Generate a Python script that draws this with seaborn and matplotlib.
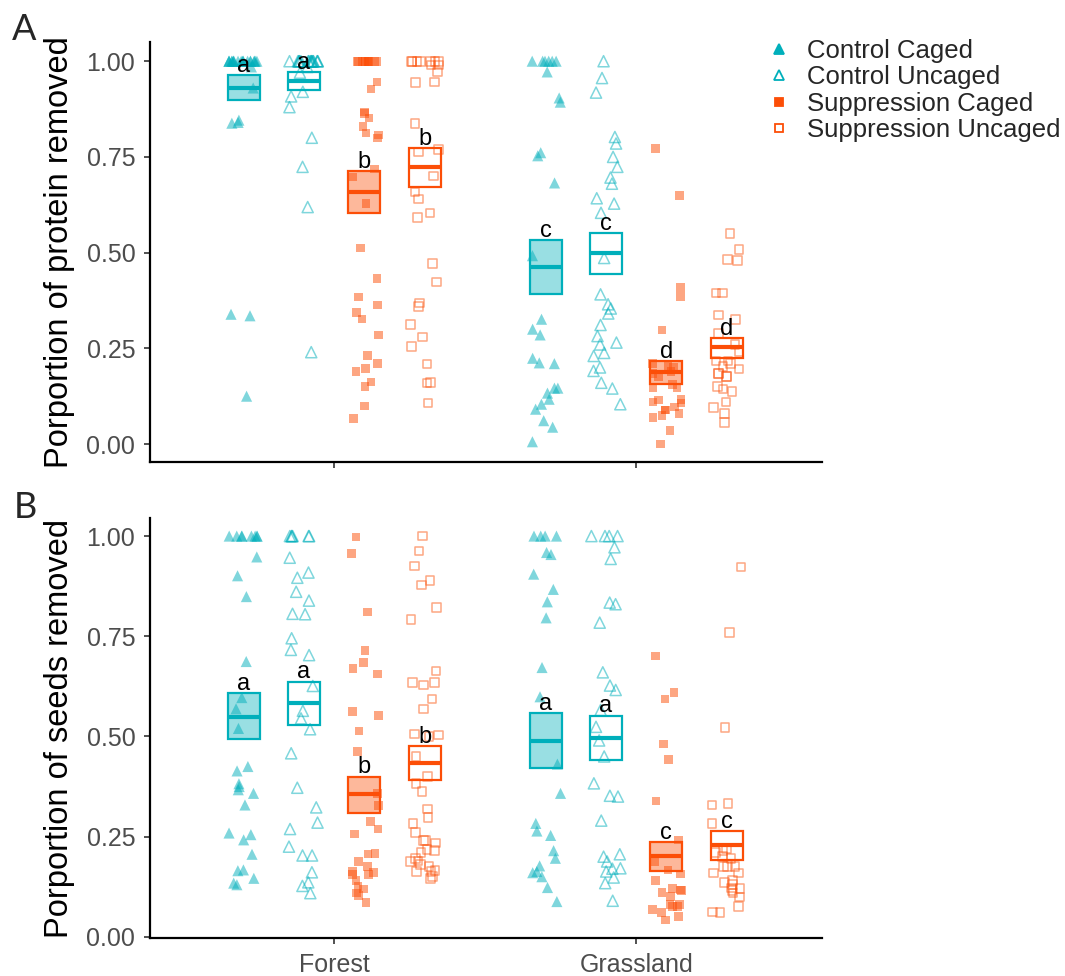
import numpy as np
import pandas as pd
import seaborn as sns
import matplotlib.pyplot as plt
from matplotlib.colors import to_rgb
from matplotlib.lines import Line2D
from matplotlib.ticker import FormatStrFormatter

# ---------------------------------------------------------------- data
HABITATS = ["Forest", "Grassland"]
GROUPS = ["Control Caged", "Control Uncaged", "Suppression Caged", "Suppression Uncaged"]

# Proportion of protein removed, one list per habitat x treatment
protein_forest_cc = [1.00, 1.00, 1.00, 1.00, 1.00, 1.00, 1.00, 1.00, 1.00, 1.00,
                     1.00, 1.00, 1.00, 1.00, 1.00, 1.00, 1.00, 1.00, 1.00, 1.00,
                     0.985, 0.93, 0.846, 0.84, 0.838, 0.339, 0.335, 0.125]
protein_forest_cu = [1.00, 1.00, 1.00, 1.00, 1.00, 1.00, 1.00, 1.00, 1.00, 1.00,
                     1.00, 1.00, 1.00, 1.00, 1.00, 1.00, 1.00, 1.00,
                     0.985, 0.97, 0.92, 0.908, 0.88, 0.80, 0.724, 0.619, 0.24]
protein_forest_sc = [1.00, 1.00, 1.00, 1.00, 1.00, 1.00, 1.00, 1.00, 1.00, 1.00,
                     0.946, 0.927, 0.867, 0.864, 0.852, 0.829, 0.812, 0.807, 0.799,
                     0.718, 0.698, 0.629, 0.512, 0.433, 0.384, 0.363, 0.343, 0.327,
                     0.285, 0.232, 0.211, 0.198, 0.189, 0.162, 0.15, 0.099, 0.066]
protein_forest_su = [1.00, 1.00, 1.00, 1.00, 1.00, 1.00, 1.00,
                     0.99, 0.99, 0.972, 0.946, 0.944, 0.837, 0.77, 0.763, 0.70,
                     0.658, 0.64, 0.603, 0.591, 0.472, 0.423, 0.368, 0.36, 0.313,
                     0.28, 0.254, 0.209, 0.16, 0.159, 0.107]
protein_grass_cc = [1.00, 1.00, 1.00, 1.00, 1.00, 1.00,
                    0.972, 0.904, 0.893, 0.761, 0.753, 0.682, 0.492, 0.326, 0.30,
                    0.285, 0.224, 0.212, 0.21, 0.146, 0.146, 0.133, 0.117, 0.104,
                    0.091, 0.061, 0.044, 0.006]
protein_grass_cu = [1.00, 0.956, 0.918, 0.802, 0.785, 0.75, 0.724, 0.696, 0.68,
                    0.642, 0.628, 0.604, 0.486, 0.391, 0.365, 0.354, 0.341, 0.311,
                    0.282, 0.265, 0.26, 0.238, 0.23, 0.20, 0.191, 0.16, 0.145, 0.104]
protein_grass_sc = [0.772, 0.65, 0.409, 0.385, 0.298, 0.21, 0.205, 0.20, 0.19,
                    0.185, 0.175, 0.155, 0.147, 0.147, 0.117, 0.115, 0.11, 0.107,
                    0.097, 0.089, 0.089, 0.08, 0.074, 0.07, 0.035, 0.0]
protein_grass_su = [0.55, 0.508, 0.482, 0.48, 0.395, 0.395, 0.337, 0.326, 0.289,
                    0.26, 0.24, 0.217, 0.217, 0.21, 0.202, 0.196, 0.185, 0.185,
                    0.176, 0.176, 0.15, 0.144, 0.138, 0.11, 0.095, 0.08, 0.056]

# Proportion of seeds removed
seeds_forest_cc = [1.00, 1.00, 1.00, 1.00, 1.00, 1.00, 1.00, 1.00,
                   0.948, 0.901, 0.849, 0.687, 0.597, 0.569, 0.52, 0.425, 0.414,
                   0.382, 0.375, 0.367, 0.358, 0.329, 0.259, 0.255, 0.242, 0.206,
                   0.167, 0.165, 0.146, 0.134, 0.13]
seeds_forest_cu = [1.00, 1.00, 1.00, 1.00, 1.00, 1.00,
                   0.946, 0.909, 0.896, 0.861, 0.839, 0.806, 0.805, 0.745, 0.716,
                   0.703, 0.626, 0.564, 0.545, 0.518, 0.458, 0.372, 0.323, 0.285,
                   0.269, 0.225, 0.203, 0.203, 0.161, 0.136, 0.127, 0.109]
seeds_forest_sc = [0.998, 0.957, 0.811, 0.714, 0.684, 0.67, 0.656, 0.562, 0.552,
                   0.514, 0.462, 0.358, 0.327, 0.288, 0.269, 0.257, 0.208, 0.207,
                   0.188, 0.175, 0.163, 0.16, 0.156, 0.155, 0.14, 0.125, 0.119,
                   0.109, 0.103, 0.086]
seeds_forest_su = [1.00, 0.963, 0.925, 0.889, 0.878, 0.822, 0.792, 0.663, 0.635,
                   0.635, 0.628, 0.593, 0.569, 0.506, 0.504, 0.50, 0.45, 0.40,
                   0.382, 0.362, 0.319, 0.298, 0.283, 0.26, 0.24, 0.24, 0.234,
                   0.218, 0.215, 0.211, 0.196, 0.189, 0.188, 0.18, 0.175, 0.165,
                   0.163, 0.163, 0.15, 0.146]
seeds_grass_cc = [1.00, 1.00, 1.00, 1.00,
                  0.959, 0.954, 0.905, 0.867, 0.836, 0.796, 0.672, 0.599, 0.431,
                  0.358, 0.283, 0.264, 0.253, 0.215, 0.196, 0.177, 0.163, 0.16,
                  0.15, 0.123, 0.088]
seeds_grass_cu = [1.00, 1.00, 1.00, 1.00,
                  0.972, 0.943, 0.834, 0.83, 0.784, 0.66, 0.627, 0.616, 0.566,
                  0.524, 0.49, 0.45, 0.383, 0.352, 0.35, 0.29, 0.206, 0.20, 0.188,
                  0.171, 0.17, 0.163, 0.148, 0.134, 0.09]
seeds_grass_sc = [0.701, 0.609, 0.593, 0.481, 0.443, 0.339, 0.242, 0.188, 0.167,
                  0.157, 0.14, 0.12, 0.117, 0.115, 0.11, 0.10, 0.08, 0.08, 0.076,
                  0.076, 0.068, 0.061, 0.051, 0.042]
seeds_grass_su = [0.923, 0.76, 0.522, 0.332, 0.329, 0.283, 0.22, 0.215, 0.21, 0.20,
                  0.195, 0.175, 0.175, 0.175, 0.159, 0.159, 0.14, 0.135, 0.13,
                  0.121, 0.122, 0.115, 0.109, 0.099, 0.076, 0.061, 0.062]

# Estimated means and standard-error limits, order: Forest x GROUPS, Grassland x GROUPS
protein_mean = [0.931, 0.949, 0.659, 0.723, 0.463, 0.500, 0.189, 0.254]
protein_lo = [0.898, 0.924, 0.604, 0.672, 0.392, 0.444, 0.158, 0.225]
protein_hi = [0.963, 0.972, 0.714, 0.773, 0.534, 0.552, 0.218, 0.278]
protein_letters = ["a", "a", "b", "b", "c", "c", "d", "d"]

seeds_mean = [0.549, 0.584, 0.356, 0.433, 0.489, 0.495, 0.202, 0.229]
seeds_lo = [0.493, 0.529, 0.310, 0.392, 0.421, 0.441, 0.165, 0.192]
seeds_hi = [0.608, 0.637, 0.400, 0.475, 0.558, 0.552, 0.236, 0.264]
seeds_letters = ["a", "a", "b", "b", "a", "a", "c", "c"]

# ---------------------------------------------------------------- styling
TEAL = "#00AFBB"
ORANGE = "#FC4E07"
STYLE = {
    "Control Caged": dict(color=TEAL, marker="^", size=8.0, open=False),
    "Control Uncaged": dict(color=TEAL, marker="^", size=8.0, open=True),
    "Suppression Caged": dict(color=ORANGE, marker="s", size=6.2, open=False),
    "Suppression Uncaged": dict(color=ORANGE, marker="s", size=6.2, open=True),
}
DODGE_WIDTH = 0.8
BOX_GAP = 0.47

sns.set_theme(style="ticks")
plt.rcParams["font.family"] = ["Liberation Sans", "DejaVu Sans"]
np.random.seed(11)


def points_frame(series):
    rows = []
    for (hab, grp), vals in series.items():
        rows += [(hab, grp, v) for v in vals]
    return pd.DataFrame(rows, columns=["habitat", "group", "value"])


def box_frame(mean, lo, hi):
    # five values per group whose quartiles / median are lo, mean, hi
    rows = []
    k = 0
    for hab in HABITATS:
        for grp in GROUPS:
            for v in (lo[k], lo[k], mean[k], hi[k], hi[k]):
                rows.append((hab, grp, v))
            k += 1
    return pd.DataFrame(rows, columns=["habitat", "group", "value"])


def draw_panel(ax, pts, boxes, hi, letters, ylabel, ylim):
    for grp in GROUPS:
        st = STYLE[grp]
        pal = {g: st["color"] for g in GROUPS}
        sub = pts[pts["group"] == grp]
        n0 = len(ax.collections)
        sns.stripplot(data=sub, x="habitat", y="value", hue="group",
                      order=HABITATS, hue_order=GROUPS, dodge=True, jitter=0.2,
                      marker=st["marker"], size=st["size"], palette=pal,
                      linewidth=1.0 if st["open"] else 0,
                      edgecolor=st["color"], alpha=0.5, legend=False, ax=ax)
        for coll in ax.collections[n0:]:
            coll.set_zorder(2)
            if st["open"]:
                coll.set_facecolor("none")
                coll.set_edgecolor(st["color"])
                coll.set_linewidth(1.1)

        bsub = boxes[boxes["group"] == grp]
        p0, l0 = len(ax.patches), len(ax.lines)
        sns.boxplot(data=bsub, x="habitat", y="value", hue="group",
                    order=HABITATS, hue_order=GROUPS, dodge=True,
                    width=DODGE_WIDTH, gap=BOX_GAP, whis=0, showcaps=False,
                    showfliers=False, palette=pal, linecolor=st["color"],
                    linewidth=1.6, medianprops=dict(color=st["color"], linewidth=3.0),
                    legend=False, ax=ax)
        for p in ax.patches[p0:]:
            p.set_facecolor("none" if st["open"] else (*to_rgb(st["color"]), 0.4))
            p.set_edgecolor(st["color"])
            p.set_zorder(3)
        for ln in ax.lines[l0:]:
            ln.set_zorder(3.5)

    n = len(GROUPS)
    k = 0
    for h_idx, hab in enumerate(HABITATS):
        for gi, grp in enumerate(GROUPS):
            off = (gi - (n - 1) / 2) * DODGE_WIDTH / n
            ax.text(h_idx + off, hi[k] + 0.008, letters[k], ha="center",
                    va="baseline", fontsize=17, color="black", zorder=5)
            k += 1

    ax.set_xlim(-0.61, 1.615)
    ax.set_ylim(*ylim)
    ax.set_yticks([0.0, 0.25, 0.5, 0.75, 1.0])
    ax.yaxis.set_major_formatter(FormatStrFormatter("%.2f"))
    ax.set_xlabel("")
    ax.set_ylabel(ylabel, fontsize=23.5, color="black")
    ax.yaxis.set_label_coords(-0.112, 0.5)
    sns.despine(ax=ax)
    for s in ("left", "bottom"):
        ax.spines[s].set_linewidth(1.6)
        ax.spines[s].set_color("black")
    ax.tick_params(axis="both", length=4.5, width=1.2, color="#333333",
                   labelsize=18, labelcolor="#4D4D4D", pad=6)


protein_pts = points_frame({
    ("Forest", "Control Caged"): protein_forest_cc,
    ("Forest", "Control Uncaged"): protein_forest_cu,
    ("Forest", "Suppression Caged"): protein_forest_sc,
    ("Forest", "Suppression Uncaged"): protein_forest_su,
    ("Grassland", "Control Caged"): protein_grass_cc,
    ("Grassland", "Control Uncaged"): protein_grass_cu,
    ("Grassland", "Suppression Caged"): protein_grass_sc,
    ("Grassland", "Suppression Uncaged"): protein_grass_su,
})
seeds_pts = points_frame({
    ("Forest", "Control Caged"): seeds_forest_cc,
    ("Forest", "Control Uncaged"): seeds_forest_cu,
    ("Forest", "Suppression Caged"): seeds_forest_sc,
    ("Forest", "Suppression Uncaged"): seeds_forest_su,
    ("Grassland", "Control Caged"): seeds_grass_cc,
    ("Grassland", "Control Uncaged"): seeds_grass_cu,
    ("Grassland", "Suppression Caged"): seeds_grass_sc,
    ("Grassland", "Suppression Uncaged"): seeds_grass_su,
})

fig = plt.figure(figsize=(10.65, 9.76), dpi=100)
ax_a = fig.add_axes([0.1408, 0.5266, 0.6310, 0.4303])
ax_b = fig.add_axes([0.1408, 0.0389, 0.6310, 0.4303])

draw_panel(ax_a, protein_pts, box_frame(protein_mean, protein_lo, protein_hi),
           protein_hi, protein_letters, "Porportion of protein removed", (-0.047, 1.05))
draw_panel(ax_b, seeds_pts, box_frame(seeds_mean, seeds_lo, seeds_hi),
           seeds_hi, seeds_letters, "Porportion of seeds removed", (-0.003, 1.045))
ax_a.set_xticklabels([])

fig.text(0.011, 0.959, "A", fontsize=26, family=["Lato", "DejaVu Sans"])
fig.text(0.013, 0.469, "B", fontsize=26, family=["Lato", "DejaVu Sans"])

handles = []
for grp in GROUPS:
    st = STYLE[grp]
    handles.append(Line2D([], [], linestyle="none", marker=st["marker"],
                          markersize=st["size"] * 0.9,
                          markerfacecolor="white" if st["open"] else st["color"],
                          markeredgecolor=st["color"], markeredgewidth=1.3))
fig.legend(handles, GROUPS, loc="upper left", bbox_to_anchor=(0.707, 0.971),
           frameon=False, fontsize=18.5, labelspacing=0.1, handletextpad=0.5,
           handlelength=1.2, borderaxespad=0.0)

fig.savefig("out.png", dpi=100)
